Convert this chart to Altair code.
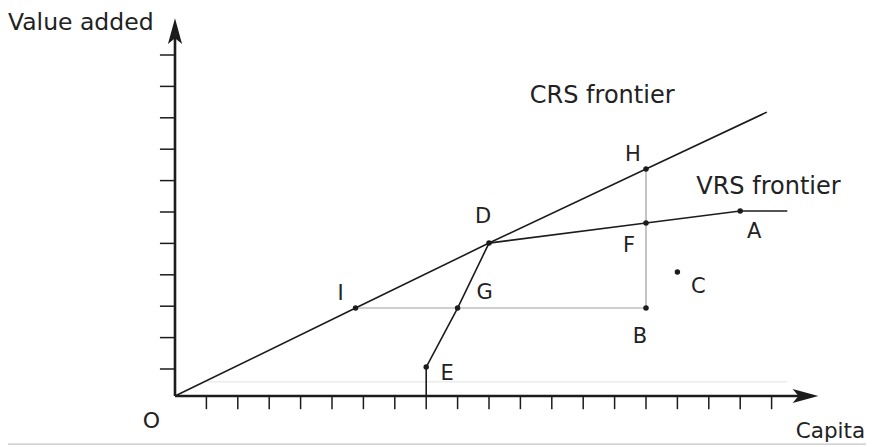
import altair as alt
import pandas as pd

# ---- data (grid units) ----
point_names = ["E", "G", "D", "I", "B", "F", "H", "C", "A"]
point_x = [8, 9, 10, 5.75, 15, 15, 15, 16, 18]
point_y = [0.92, 2.80, 4.87, 2.80, 2.80, 5.51, 7.23, 3.95, 5.89]

crs_x = [0, 5.75, 10, 15, 18.85]
crs_y = [0, 2.80, 4.87, 7.23, 9.04]

vrs_x = [8, 8, 9, 10, 15, 18, 19.5]
vrs_y = [0, 0.92, 2.80, 4.87, 5.51, 5.89, 5.89]

x_ticks = list(range(1, 20))
y_ticks = [0.86 + k for k in range(11)]

annotations = ["Value added", "CRS frontier", "VRS frontier", "Capita", "O"]
annot_x = [-5.32, 11.3, 16.6, 19.77, -0.75]
annot_y = [11.66, 9.33, 6.43, -1.33, -1.02]
annot_align = ["left", "left", "left", "left", "center"]
annot_size = [23.5, 24, 24, 21.5, 22]

# ---- scales (units: 31.4 px per grid step) ----
W, H = 858, 439
U = 31.4
X0, Y0 = 175 - 8, 396 - 8  # origin inside the chart area
xdom = [-X0 / U, (W - X0) / U]
ydom = [-(H - Y0) / U, Y0 / U]
xs = alt.Scale(domain=xdom, nice=False, zero=False)
ys = alt.Scale(domain=ydom, nice=False, zero=False)
FONT = "DejaVu Sans"
INK = "#1c1c1c"


def X(f="x"):
    return alt.X(f"{f}:Q", scale=xs, axis=None)


def Y(f="y"):
    return alt.Y(f"{f}:Q", scale=ys, axis=None)


layers = []

# faint background guide and bottom border
faint = pd.DataFrame({"x": [1.0], "x2": [19.5], "y": [0.45]})
layers.append(alt.Chart(faint).mark_rule(color="#ececec", strokeWidth=1.5).encode(
    x=X(), x2="x2:Q", y=Y()))
border = pd.DataFrame({"x": [xdom[0]], "x2": [xdom[1]], "y": [-1.53]})
layers.append(alt.Chart(border).mark_rule(color="#c4c4c4", strokeWidth=1.2).encode(
    x=X(), x2="x2:Q", y=Y()))

# guide lines I-B (horizontal) and B-H (vertical)
guide_h = pd.DataFrame({"x": [point_x[3]], "x2": [point_x[4]], "y": [point_y[4]]})
layers.append(alt.Chart(guide_h).mark_rule(color="#cfcfcf", strokeWidth=2).encode(
    x=X(), x2="x2:Q", y=Y()))
guide_v = pd.DataFrame({"x": [point_x[4]], "y": [point_y[4]], "y2": [point_y[6]]})
layers.append(alt.Chart(guide_v).mark_rule(color="#8a8a8a", strokeWidth=1).encode(
    x=X(), y=Y(), y2="y2:Q"))

# ticks
xt = pd.DataFrame({"x": x_ticks, "y": [0.0] * len(x_ticks), "y2": [-0.42] * len(x_ticks)})
layers.append(alt.Chart(xt).mark_rule(color=INK, strokeWidth=1.5).encode(
    x=X(), y=Y(), y2="y2:Q"))
yt = pd.DataFrame({"y": y_ticks, "x": [-0.48] * len(y_ticks), "x2": [0.0] * len(y_ticks)})
layers.append(alt.Chart(yt).mark_rule(color=INK, strokeWidth=1.5).encode(
    x=X(), x2="x2:Q", y=Y()))

# axes
xa = pd.DataFrame({"x": [0.0], "x2": [19.9], "y": [0.0]})
layers.append(alt.Chart(xa).mark_rule(color=INK, strokeWidth=2.6).encode(
    x=X(), x2="x2:Q", y=Y()))
ya = pd.DataFrame({"x": [0.0], "y": [0.0], "y2": [11.4]})
layers.append(alt.Chart(ya).mark_rule(color=INK, strokeWidth=2.6).encode(
    x=X(), y=Y(), y2="y2:Q"))

arrow_r = "M1,0L-1,-0.55L-0.55,0L-1,0.55Z"
arrow_u = "M0,-1L0.55,1L0,0.55L-0.55,1Z"
ar = pd.DataFrame({"x": [20.08], "y": [0.0]})
layers.append(alt.Chart(ar).mark_point(shape=arrow_r, size=660, filled=True, color=INK, opacity=1).encode(
    x=X(), y=Y()))
au = pd.DataFrame({"x": [0.0], "y": [11.62]})
layers.append(alt.Chart(au).mark_point(shape=arrow_u, size=660, filled=True, color=INK, opacity=1).encode(
    x=X(), y=Y()))

# frontiers
crs = pd.DataFrame({"x": crs_x, "y": crs_y, "o": range(len(crs_x))})
layers.append(alt.Chart(crs).mark_line(color=INK, strokeWidth=1.6).encode(
    x=X(), y=Y(), order="o:Q"))
vrs = pd.DataFrame({"x": vrs_x, "y": vrs_y, "o": range(len(vrs_x))})
layers.append(alt.Chart(vrs).mark_line(color=INK, strokeWidth=1.6).encode(
    x=X(), y=Y(), order="o:Q"))

# points
pts = pd.DataFrame({"name": point_names, "x": point_x, "y": point_y})
layers.append(alt.Chart(pts).mark_point(shape="circle", size=30, filled=True, color=INK, opacity=1).encode(
    x=X(), y=Y()))

# point labels (pixel offsets are styling)
label_offsets = {
    "E": (21, 13), "G": (27, -9), "D": (-6, -20), "I": (-15, -8), "B": (-6, 35),
    "F": (-17, 29), "H": (-13, -8), "C": (21, 21), "A": (14, 27),
}
for n, px, py in zip(point_names, point_x, point_y):
    dx, dy = label_offsets[n]
    d = pd.DataFrame({"x": [px], "y": [py], "t": [n]})
    layers.append(alt.Chart(d).mark_text(font=FONT, fontSize=21, color="#222", align="center",
                                         baseline="alphabetic", dx=dx, dy=dy).encode(
        x=X(), y=Y(), text="t:N"))

# annotations
for t, ax_, ay_, al, fs in zip(annotations, annot_x, annot_y, annot_align, annot_size):
    d = pd.DataFrame({"x": [ax_], "y": [ay_], "t": [t]})
    layers.append(alt.Chart(d).mark_text(font=FONT, fontSize=fs, color="#222", align=al,
                                         baseline="alphabetic").encode(
        x=X(), y=Y(), text="t:N"))

chart = alt.layer(*layers).properties(
    width=W, height=H, padding=0, autosize=alt.AutoSizeParams(type="none"),
    background="white",
).configure_view(stroke=None)

chart.save("out.html", embed_options={"renderer": "svg", "actions": False})
